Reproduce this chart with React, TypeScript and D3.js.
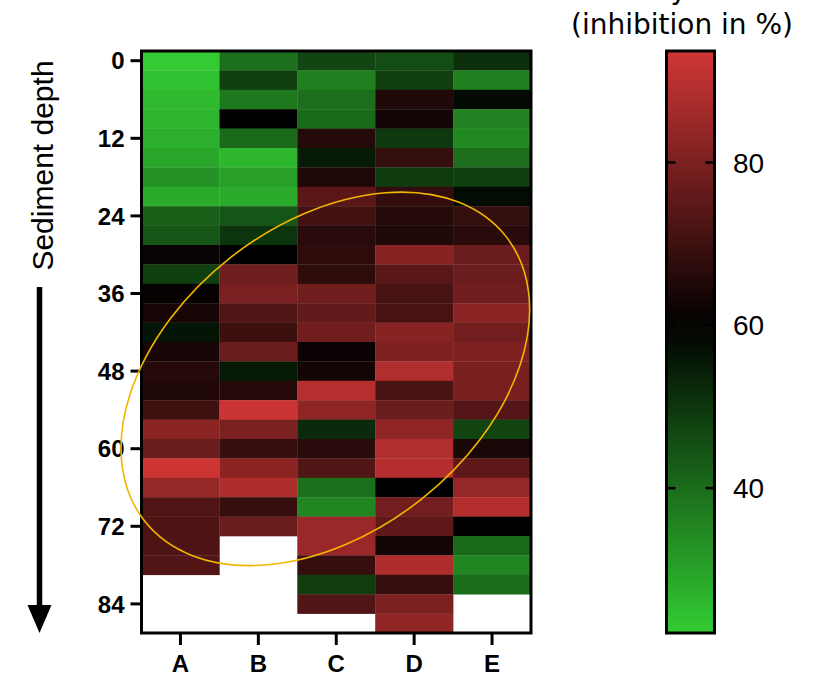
import React from "react";
import * as d3 from "d3";

const categories = ["A", "B", "C", "D", "E"];
const depthStep = 3;
const colA = [22.5, 24, 25.5, 26.5, 27.5, 29, 33, 28.5, 42.2, 44.2, 61.6, 48.3, 61, 63.9, 56.1, 63.9, 66.2, 65.2, 70, 82.7, 77.2, 93.1, 84.1, 73.3, 72.6, 72.6, 73.3];
const colB = [39.4, 48.3, 37.6, 60, 40.3, 26, 30.4, 28.5, 44.2, 50.2, 60, 78, 79.8, 73, 69.9, 77.2, 55.2, 66.2, 92.6, 79.8, 68.7, 82.7, 88, 68.7, 77.2];
const colC = [47.2, 36.3, 39.6, 40.3, 66, 55.2, 65.1, 74.6, 70.7, 66.8, 67.5, 67.5, 78.1, 76, 78.3, 61.8, 63.2, 89.3, 83.2, 52.2, 66.8, 73.3, 39.2, 35.4, 85, 85, 68.7, 48.7, 73.3];
const colD = [45.7, 48.3, 65.5, 63.1, 49.6, 68.6, 48.9, 68.3, 66, 65.4, 81.9, 74.3, 71.3, 71.3, 81.9, 80.6, 88.5, 72, 77.2, 83.2, 88.5, 89, 60.3, 78.5, 75.2, 62.9, 88, 68.7, 79.8, 83.2];
const colE = [51.5, 36.3, 58.1, 36, 34.7, 39.6, 48.1, 57.8, 68.6, 66.8, 77.2, 77.2, 78.1, 82.4, 78.5, 80.6, 79.5, 79.5, 73.4, 47.4, 64.2, 75.2, 84.1, 89, 60.3, 40.7, 35.4, 39.9];
const columns = [colA, colB, colC, colD, colE];
const yTicks = [0, 12, 24, 36, 48, 60, 72, 84];
const colorTicks = [40, 60, 80];
const colorDomain = [22.2, 60, 93.7];
const colorRange = ["#33cc33", "#000000", "#d13636"];
const depthDomain = [-1.5, 88.5];
const titleLines = ["Photosynthesis", "(inhibition in %)"];
const yLabel = "Sediment depth";

const FONT = "'Liberation Sans', Arial, Helvetica, sans-serif";

export default function App() {
  const plotL = 141.5, plotR = 531, plotT = 51, plotB = 633;
  const x = d3.scaleBand<string>().domain(categories).range([plotL, plotR]).padding(0);
  const xLin = d3.scaleLinear().domain([0, categories.length]).range([plotL, plotR]);
  const y = d3.scaleLinear().domain(depthDomain).range([plotT, plotB]);
  const color = d3.scaleLinear<string>().domain(colorDomain).range(colorRange).interpolate(d3.interpolateRgb).clamp(true);

  const cbL = 666.5, cbW = 48;
  const cy = d3.scaleLinear().domain([colorDomain[0], colorDomain[2]]).range([plotB, plotT]);
  const stops = d3.range(0, 1.0001, 0.05).map((t) => {
    const v = colorDomain[2] - t * (colorDomain[2] - colorDomain[0]);
    return { offset: t, c: color(v) };
  });

  const cells: { key: string; x: number; y: number; w: number; h: number; fill: string }[] = [];
  columns.forEach((vals, ci) => {
    const cat = categories[ci];
    vals.forEach((v, ri) => {
      const d = ri * depthStep;
      const y0 = y(d - depthStep / 2);
      const y1 = y(d + depthStep / 2);
      cells.push({ key: cat + ri, x: x(cat)!, y: y0, w: x.bandwidth() + 0.3, h: y1 - y0 + 0.3, fill: color(v) });
    });
  });

  // annotation ellipse in data space
  const ellCx = xLin(2.36);
  const ellCy = y(49.2);

  return (
    <svg width={815} height={678} style={{ position: "absolute", left: 0, top: 0, background: "#fff" }} fontFamily={FONT}>
      <defs>
        <linearGradient id="cbg" x1="0" y1="0" x2="0" y2="1">
          {stops.map((s, i) => (
            <stop key={i} offset={s.offset} stopColor={s.c} />
          ))}
        </linearGradient>
      </defs>
      {cells.map((c) => (
        <rect key={c.key} x={c.x} y={c.y} width={c.w} height={c.h} fill={c.fill} />
      ))}
      <rect x={plotL} y={plotT} width={plotR - plotL} height={plotB - plotT} fill="none" stroke="#000" strokeWidth={3} />
      {yTicks.map((t) => (
        <g key={t}>
          <line x1={plotL - 11} x2={plotL} y1={y(t)} y2={y(t)} stroke="#000" strokeWidth={3} />
          <text x={plotL - 17} y={y(t)} dy="0.36em" textAnchor="end" fontWeight="bold" fontSize={24}>
            {t}
          </text>
        </g>
      ))}
      {categories.map((c) => (
        <g key={c}>
          <line x1={x(c)! + x.bandwidth() / 2} x2={x(c)! + x.bandwidth() / 2} y1={plotB} y2={plotB + 12} stroke="#000" strokeWidth={3} />
          <text x={x(c)! + x.bandwidth() / 2} y={672} textAnchor="middle" fontWeight="bold" fontSize={24}>
            {c}
          </text>
        </g>
      ))}
      <ellipse cx={ellCx} cy={ellCy} rx={230} ry={154} transform={`rotate(-38.2 ${ellCx} ${ellCy})`} fill="none" stroke="#f2b600" strokeWidth={1.6} />
      <text transform={`translate(52.5,${(58 + 273) / 2}) rotate(-90)`} textAnchor="middle" fontSize={30}>
        {yLabel}
      </text>
      <line x1={39.5} x2={39.5} y1={287} y2={610} stroke="#000" strokeWidth={5.5} />
      <path d={`M27.5,605 L51.5,605 L39.5,633 Z`} fill="#000" />
      <rect x={cbL} y={plotT} width={cbW} height={plotB - plotT} fill="url(#cbg)" stroke="#000" strokeWidth={3} />
      {colorTicks.map((t) => (
        <g key={t}>
          <line x1={cbL} x2={cbL + 9} y1={cy(t)} y2={cy(t)} stroke="#000" strokeWidth={2.5} />
          <line x1={cbL + cbW - 9} x2={cbL + cbW} y1={cy(t)} y2={cy(t)} stroke="#000" strokeWidth={2.5} />
          <text x={733} y={cy(t)} dy="0.36em" fontSize={28}>
            {t}
          </text>
        </g>
      ))}
      <text x={682} y={-1.5} textAnchor="middle" fontSize={28} fontFamily="'DejaVu Sans', sans-serif">
        {titleLines[0]}
      </text>
      <text x={682} y={33.5} textAnchor="middle" fontSize={28} fontFamily="'DejaVu Sans', sans-serif">
        {titleLines[1]}
      </text>
    </svg>
  );
}
